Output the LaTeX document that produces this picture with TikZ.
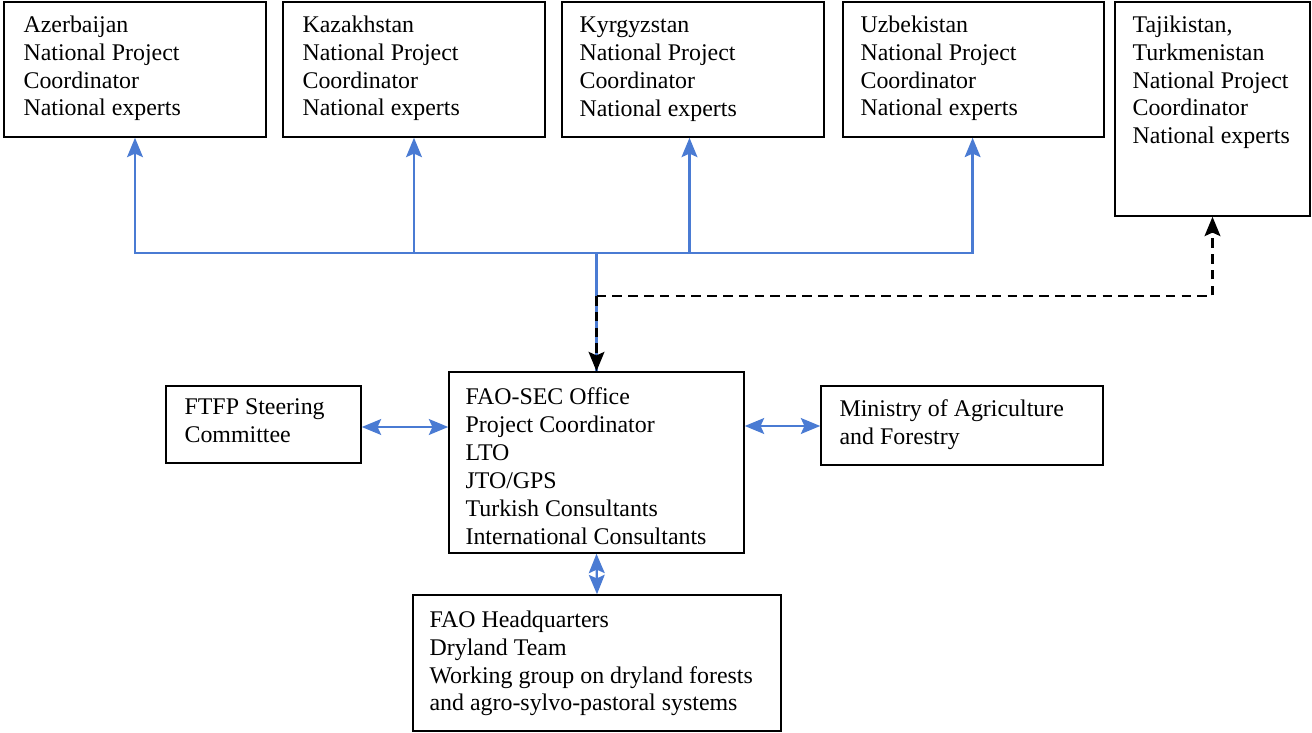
\documentclass[tikz,border=0pt]{standalone}
\usepackage{fontspec}
\setmainfont{Liberation Serif}
\usetikzlibrary{arrows.meta}
\definecolor{linkblue}{HTML}{4A7BD3}

\tikzset{
  unit/.style={draw, rectangle, line width=0.9pt, inner sep=0pt},
  caption/.style={anchor=north west, inner sep=0pt, align=left, font=\fontsize{13.6}{15.9}\selectfont},
  link/.style={draw=linkblue, line width=1.3pt},
  dashlink/.style={draw=black, line width=1.3pt, dash pattern=on 5.5pt off 3.5pt},
  tip/.style={>={Stealth[length=11pt, width=9pt, inset=2pt]}}
}

\begin{document}
\begin{tikzpicture}[x=0.02cm, y=-0.02cm, tip]
	\useasboundingbox (0,0) rectangle (1312,733);
	% country offices
	\node[unit, minimum width=5.24cm, minimum height=2.7cm] (Az)at(135, 69.5) {};
	\node[unit, minimum width=5.24cm, minimum height=2.7cm] (Kz)at(414, 69.5) {};
	\node[unit, minimum width=5.24cm, minimum height=2.7cm] (Kg)at(693, 69.5) {};
	\node[unit, minimum width=5.22cm, minimum height=2.7cm] (Uz)at(973.5, 69.5) {};
	\node[unit, minimum width=3.9cm, minimum height=4.28cm] (Tj)at(1212.5, 109) {};
	% central units
	\node[unit, minimum width=5.9cm, minimum height=3.62cm] (SEC)at(596.5, 462.5) {};
	\node[unit, minimum width=3.9cm, minimum height=1.54cm] (FTFP)at(263.5, 424.5) {};
	\node[unit, minimum width=5.64cm, minimum height=1.58cm] (MIN)at(962, 425.5) {};
	\node[unit, minimum width=7.36cm, minimum height=2.72cm] (HQ)at(597, 663) {};
	% texts
	\node[caption] (AzT)at([shift={(20,14)}]Az.north west) {Azerbaijan\\National Project\\Coordinator\\National experts};
	\node[caption] (KzT)at([shift={(20,14)}]Kz.north west) {Kazakhstan\\National Project\\Coordinator\\National experts};
	\node[caption] (KgT)at([shift={(18,15)}]Kg.north west) {Kyrgyzstan\\National Project\\Coordinator\\National experts};
	\node[caption] (UzT)at([shift={(18,14)}]Uz.north west) {Uzbekistan\\National Project\\Coordinator\\National experts};
	\node[caption] (TjT)at([shift={(18,14)}]Tj.north west) {Tajikistan,\\Turkmenistan\\National Project\\Coordinator\\National experts};
	\node[caption] (SECT)at([shift={(17,16)}]SEC.north west) {FAO-SEC Office\\Project Coordinator\\LTO\\JTO/GPS\\Turkish Consultants\\International Consultants};
	\node[caption] (FTFPT)at([shift={(19,13)}]FTFP.north west) {FTFP Steering\\Committee};
	\node[caption] (MINT)at([shift={(19,14)}]MIN.north west) {Ministry of Agriculture\\and Forestry};
	\node[caption] (HQT)at([shift={(17,16)}]HQ.north west) {FAO Headquarters\\Dryland Team\\Working group on dryland forests\\and agro-sylvo-pastoral systems};
	% connectors
	\coordinate (bus)at(596.5, 253);
	\coordinate (split)at(596.5, 296);
	\draw[link, ->] (bus) -| (Az.south);
	\draw[link, ->] (bus) -| (Kz.south);
	\draw[link, ->] (bus) -| ([xshift=-2]Kg.south);
	\draw[link, ->] (bus) -| ([xshift=-0.5]Uz.south);
	\draw[link] (bus) -- (SEC.north);
	\draw[dashlink, ->] (split) -| (Tj.south);
	\draw[dashlink, ->] (split) -- (SEC.north);
	\draw[link, <->] (FTFP.east |- 0,427) -- (SEC.west |- 0,427);
	\draw[link, <->] (SEC.east |- 0,426) -- (MIN.west |- 0,426);
	\draw[link, <->] (SEC.south) -- (HQ.north);
\end{tikzpicture}
\end{document}
